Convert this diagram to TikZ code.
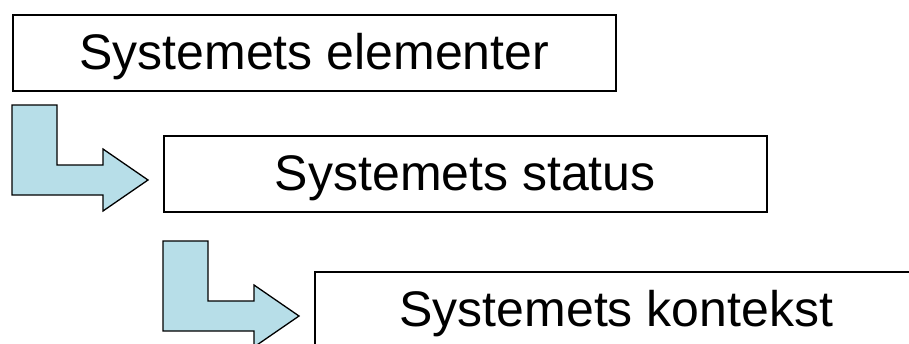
\documentclass[tikz,border=0pt]{standalone}
\usepackage{fontspec}
\setmainfont{Liberation Sans}
\definecolor{arrowfill}{RGB}{183,222,232}
\begin{document}
\begin{tikzpicture}[x=1pt,y=-1pt,
  stage/.style={draw=black, line width=1.6pt, fill=white,
    minimum width=603pt, minimum height=76pt, inner sep=0pt,
    text height=40pt, text depth=6pt,
    font=\fontsize{50}{54}\selectfont, anchor=north west},
  bent/.style={draw=black, line width=1.3pt, fill=arrowfill, line join=miter},
  bentarrow/.pic={
    \path[bent] (0,0) -- (45,0) -- (45,60) -- (91,60) -- (91,44)
      -- (136,75) -- (91,106) -- (91,90) -- (0,90) -- cycle;
  }]
\useasboundingbox (0,0) rectangle (909,343);

% the three stages, each shifted down and to the right
\node[stage] (elementer) at (12,14)  {Systemets elementer};
\node[stage] (status)    at (163,135) {Systemets status};
\node[stage] (kontekst)  at (314,271) {Systemets kontekst};

% bent arrows leading from one stage to the next
\pic at (12,105)  {bentarrow};
\pic at (163,241) {bentarrow};
\end{tikzpicture}
\end{document}
